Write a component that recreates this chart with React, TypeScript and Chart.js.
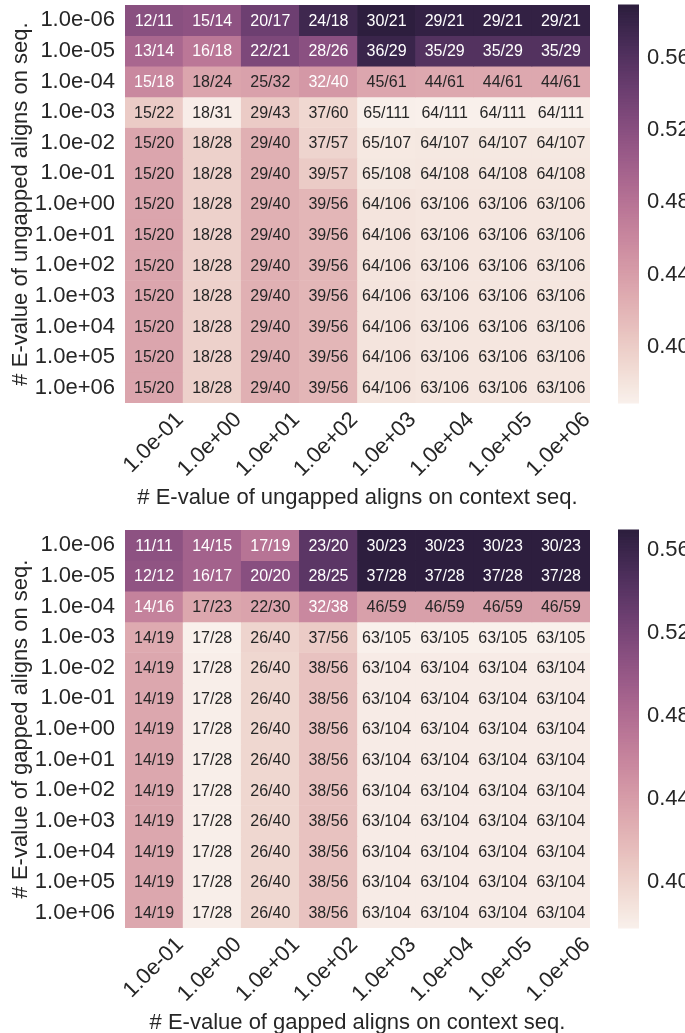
import React, { useEffect, useRef } from "react";
import { Chart, registerables } from "chart.js";

Chart.register(...registerables);

// ---------------- data ----------------
const colLabels = ["1.0e-01", "1.0e+00", "1.0e+01", "1.0e+02", "1.0e+03", "1.0e+04", "1.0e+05", "1.0e+06"];
const rowLabels = [
  "1.0e-06", "1.0e-05", "1.0e-04", "1.0e-03", "1.0e-02", "1.0e-01", "1.0e+00",
  "1.0e+01", "1.0e+02", "1.0e+03", "1.0e+04", "1.0e+05", "1.0e+06",
];

const ungappedAnnot: string[][] = [
  ["12/11", "15/14", "20/17", "24/18", "30/21", "29/21", "29/21", "29/21"],
  ["13/14", "16/18", "22/21", "28/26", "36/29", "35/29", "35/29", "35/29"],
  ["15/18", "18/24", "25/32", "32/40", "45/61", "44/61", "44/61", "44/61"],
  ["15/22", "18/31", "29/43", "37/60", "65/111", "64/111", "64/111", "64/111"],
  ["15/20", "18/28", "29/40", "37/57", "65/107", "64/107", "64/107", "64/107"],
  ["15/20", "18/28", "29/40", "39/57", "65/108", "64/108", "64/108", "64/108"],
  ["15/20", "18/28", "29/40", "39/56", "64/106", "63/106", "63/106", "63/106"],
  ["15/20", "18/28", "29/40", "39/56", "64/106", "63/106", "63/106", "63/106"],
  ["15/20", "18/28", "29/40", "39/56", "64/106", "63/106", "63/106", "63/106"],
  ["15/20", "18/28", "29/40", "39/56", "64/106", "63/106", "63/106", "63/106"],
  ["15/20", "18/28", "29/40", "39/56", "64/106", "63/106", "63/106", "63/106"],
  ["15/20", "18/28", "29/40", "39/56", "64/106", "63/106", "63/106", "63/106"],
  ["15/20", "18/28", "29/40", "39/56", "64/106", "63/106", "63/106", "63/106"],
];

const ungappedScores: number[][] = [
  [0.520, 0.516, 0.541, 0.575, 0.589, 0.584, 0.584, 0.584],
  [0.493, 0.476, 0.529, 0.519, 0.578, 0.560, 0.560, 0.560],
  [0.460, 0.434, 0.437, 0.445, 0.433, 0.431, 0.431, 0.431],
  [0.402, 0.372, 0.402, 0.391, 0.370, 0.369, 0.369, 0.369],
  [0.434, 0.397, 0.424, 0.394, 0.376, 0.377, 0.377, 0.377],
  [0.434, 0.397, 0.424, 0.402, 0.377, 0.378, 0.378, 0.378],
  [0.434, 0.397, 0.424, 0.419, 0.381, 0.379, 0.379, 0.379],
  [0.434, 0.397, 0.424, 0.419, 0.381, 0.379, 0.379, 0.379],
  [0.434, 0.397, 0.424, 0.419, 0.381, 0.379, 0.379, 0.379],
  [0.434, 0.397, 0.424, 0.419, 0.381, 0.379, 0.379, 0.379],
  [0.434, 0.397, 0.424, 0.419, 0.381, 0.379, 0.379, 0.379],
  [0.434, 0.397, 0.424, 0.419, 0.381, 0.379, 0.379, 0.379],
  [0.434, 0.397, 0.424, 0.419, 0.381, 0.379, 0.379, 0.379],
];

const gappedAnnot: string[][] = [
  ["11/11", "14/15", "17/19", "23/20", "30/23", "30/23", "30/23", "30/23"],
  ["12/12", "16/17", "20/20", "28/25", "37/28", "37/28", "37/28", "37/28"],
  ["14/16", "17/23", "22/30", "32/38", "46/59", "46/59", "46/59", "46/59"],
  ["14/19", "17/28", "26/40", "37/56", "63/105", "63/105", "63/105", "63/105"],
  ["14/19", "17/28", "26/40", "38/56", "63/104", "63/104", "63/104", "63/104"],
  ["14/19", "17/28", "26/40", "38/56", "63/104", "63/104", "63/104", "63/104"],
  ["14/19", "17/28", "26/40", "38/56", "63/104", "63/104", "63/104", "63/104"],
  ["14/19", "17/28", "26/40", "38/56", "63/104", "63/104", "63/104", "63/104"],
  ["14/19", "17/28", "26/40", "38/56", "63/104", "63/104", "63/104", "63/104"],
  ["14/19", "17/28", "26/40", "38/56", "63/104", "63/104", "63/104", "63/104"],
  ["14/19", "17/28", "26/40", "38/56", "63/104", "63/104", "63/104", "63/104"],
  ["14/19", "17/28", "26/40", "38/56", "63/104", "63/104", "63/104", "63/104"],
  ["14/19", "17/28", "26/40", "38/56", "63/104", "63/104", "63/104", "63/104"],
];

const gappedScores: number[][] = [
  [0.507, 0.491, 0.474, 0.539, 0.570, 0.570, 0.570, 0.570],
  [0.505, 0.491, 0.510, 0.539, 0.570, 0.570, 0.570, 0.570],
  [0.462, 0.433, 0.436, 0.457, 0.438, 0.438, 0.438, 0.438],
  [0.431, 0.378, 0.400, 0.407, 0.378, 0.378, 0.378, 0.378],
  [0.433, 0.380, 0.398, 0.413, 0.382, 0.382, 0.382, 0.382],
  [0.433, 0.380, 0.398, 0.413, 0.382, 0.382, 0.382, 0.382],
  [0.433, 0.380, 0.398, 0.413, 0.382, 0.382, 0.382, 0.382],
  [0.433, 0.380, 0.398, 0.413, 0.382, 0.382, 0.382, 0.382],
  [0.433, 0.380, 0.398, 0.413, 0.382, 0.382, 0.382, 0.382],
  [0.433, 0.380, 0.398, 0.413, 0.382, 0.382, 0.382, 0.382],
  [0.433, 0.380, 0.398, 0.413, 0.382, 0.382, 0.382, 0.382],
  [0.433, 0.380, 0.398, 0.413, 0.382, 0.382, 0.382, 0.382],
  [0.433, 0.380, 0.398, 0.413, 0.382, 0.382, 0.382, 0.382],
];

const ungappedRange = [0.369, 0.589];
const gappedRange = [0.378, 0.5696];
const colorbarTicks = [0.40, 0.44, 0.48, 0.52, 0.56];

// ---------------- styling ----------------
const FONT = '"Liberation Sans", Arial, sans-serif';
const CELL_FONT = '"Liberation Sans", Arial, sans-serif';
const TEXT_DARK = "#262626";
const LIGHT = 0.95;
const DARK = 0.15;

function cubehelix(x: number): number[] {
  const a = (0.8 * x * (1 - x)) / 2;
  const phi = 2 * Math.PI * (0.4 * x);
  const c = Math.cos(phi);
  const s = Math.sin(phi);
  const r = x + a * (-0.14861 * c + 1.78277 * s);
  const g = x + a * (-0.29227 * c - 0.90649 * s);
  const b = x + a * (1.97294 * c);
  return [r, g, b].map((v) => Math.max(0, Math.min(1, v)));
}

function cmap(t: number): number[] {
  const k = Math.min(255, Math.max(0, Math.floor(t * 256)));
  const x = LIGHT + ((DARK - LIGHT) * k) / 255;
  return cubehelix(x);
}

function rgbStr(c: number[]) {
  return `rgb(${Math.round(c[0] * 255)},${Math.round(c[1] * 255)},${Math.round(c[2] * 255)})`;
}

function relLum(c: number[]) {
  const f = (v: number) => (v <= 0.03928 ? v / 12.92 : Math.pow((v + 0.055) / 1.055, 2.4));
  return 0.2126 * f(c[0]) + 0.7152 * f(c[1]) + 0.0722 * f(c[2]);
}

type HeatProps = {
  scores: number[][];
  annots: string[][];
  range: number[];
  xTitle: string;
  yTitle: string;
  top: number;
};

function Heatmap({ scores, annots, range, xTitle, yTitle, top }: HeatProps) {
  const ref = useRef<HTMLCanvasElement>(null);

  useEffect(() => {
    if (!ref.current) return;
    const [vmin, vmax] = range;
    const colorOf = (v: number) => cmap((v - vmin) / (vmax - vmin));

    const datasets = rowLabels.map((r, i) => ({
      label: r,
      data: colLabels.map(() => [i, i + 1]),
      backgroundColor: scores[i].map((v) => rgbStr(colorOf(v))),
      grouped: false,
      barPercentage: 1,
      categoryPercentage: 1,
      borderWidth: 0,
    }));

    const annotPlugin = {
      id: "annot",
      afterDatasetsDraw(chart: any) {
        const ctx = chart.ctx;
        ctx.save();
        ctx.font = `16px ${CELL_FONT}`;
        ctx.textAlign = "center";
        ctx.textBaseline = "middle";
        chart.data.datasets.forEach((ds: any, i: number) => {
          const meta = chart.getDatasetMeta(i);
          meta.data.forEach((el: any, j: number) => {
            const col = colorOf(scores[i][j]);
            ctx.fillStyle = relLum(col) > 0.408 ? TEXT_DARK : "#ffffff";
            ctx.fillText(annots[i][j], el.x, (el.y + el.base) / 2 + 1);
          });
        });
        ctx.restore();
      },
    };

    const colorbarPlugin = {
      id: "colorbar",
      afterDraw(chart: any) {
        const sc = chart.scales.cb;
        const ctx = chart.ctx;
        const x0 = chart.chartArea.right + 28;
        const w = 21;
        ctx.save();
        for (let k = 0; k < 256; k++) {
          const v0 = vmin + ((vmax - vmin) * k) / 256;
          const v1 = vmin + ((vmax - vmin) * (k + 1)) / 256;
          const y0 = sc.getPixelForValue(v1);
          const y1 = sc.getPixelForValue(v0);
          ctx.fillStyle = rgbStr(cmap((k + 0.5) / 256));
          ctx.fillRect(x0, y0 - 0.5, w, y1 - y0 + 1);
        }
        ctx.restore();
      },
    };

    const tickFont = { family: FONT, size: 22 };

    const chart = new Chart(ref.current, {
      type: "bar",
      data: { labels: colLabels, datasets: datasets as any },
      options: {
        animation: false,
        responsive: false,
        devicePixelRatio: 1,
        events: [],
        layout: { padding: { top: 5, left: 0, right: 0, bottom: 0 } },
        plugins: { legend: { display: false }, tooltip: { enabled: false } },
        scales: {
          x: {
            type: "category",
            offset: true,
            grid: { display: false, drawTicks: false },
            border: { display: false },
            ticks: {
              autoSkip: false,
              maxRotation: 45,
              minRotation: 45,
              labelOffset: 26,
              padding: 4,
              color: TEXT_DARK,
              font: tickFont,
            },
            title: {
              display: true,
              text: xTitle,
              color: TEXT_DARK,
              font: tickFont,
              padding: { top: 0, bottom: 14 },
            },
            afterFit: (s: any) => {
              s.height = 122;
              s.paddingLeft = 0;
              s.paddingRight = 0;
            },
          },
          y: {
            type: "linear",
            position: "left",
            min: 0,
            max: rowLabels.length,
            reverse: true,
            grid: { display: false, drawTicks: false },
            border: { display: false },
            afterBuildTicks: (s: any) => {
              s.ticks = rowLabels.map((_, i) => ({ value: i + 0.5 }));
            },
            ticks: {
              autoSkip: false,
              padding: 10,
              color: TEXT_DARK,
              font: tickFont,
              callback: (v: any) => rowLabels[Math.floor(Number(v))],
            },
            title: {
              display: true,
              text: yTitle,
              color: TEXT_DARK,
              font: tickFont,
              padding: { top: 8, bottom: 0 },
            },
            afterFit: (s: any) => {
              s.width = 125;
              s.paddingTop = 0;
              s.paddingBottom = 0;
            },
          },
          cb: {
            type: "linear",
            position: "right",
            min: vmin,
            max: vmax,
            grid: { display: false, drawTicks: false },
            border: { display: false },
            afterBuildTicks: (s: any) => {
              s.ticks = colorbarTicks.map((v) => ({ value: v }));
            },
            ticks: {
              autoSkip: false,
              padding: 57,
              color: TEXT_DARK,
              font: tickFont,
              callback: (v: any) => Number(v).toFixed(2),
            },
            afterFit: (s: any) => {
              s.width = 95;
              s.paddingTop = 0;
              s.paddingBottom = 0;
            },
          },
        },
      } as any,
      plugins: [annotPlugin, colorbarPlugin],
    });
    return () => chart.destroy();
  }, []);

  return (
    <canvas
      ref={ref}
      width={685}
      height={525}
      style={{ position: "absolute", left: 0, top, width: 685, height: 525, display: "block" }}
    />
  );
}

export default function App() {
  return (
    <div
      style={{
        position: "absolute",
        left: 0,
        top: 0,
        width: 685,
        height: 1033,
        overflow: "hidden",
        background: "#ffffff",
      }}
    >
      <Heatmap
        scores={ungappedScores}
        annots={ungappedAnnot}
        range={ungappedRange}
        xTitle="# E-value of ungapped aligns on context seq."
        yTitle="# E-value of ungapped aligns on seq."
        top={0}
      />
      <Heatmap
        scores={gappedScores}
        annots={gappedAnnot}
        range={gappedRange}
        xTitle="# E-value of gapped aligns on context seq."
        yTitle="# E-value of gapped aligns on seq."
        top={525}
      />
    </div>
  );
}
